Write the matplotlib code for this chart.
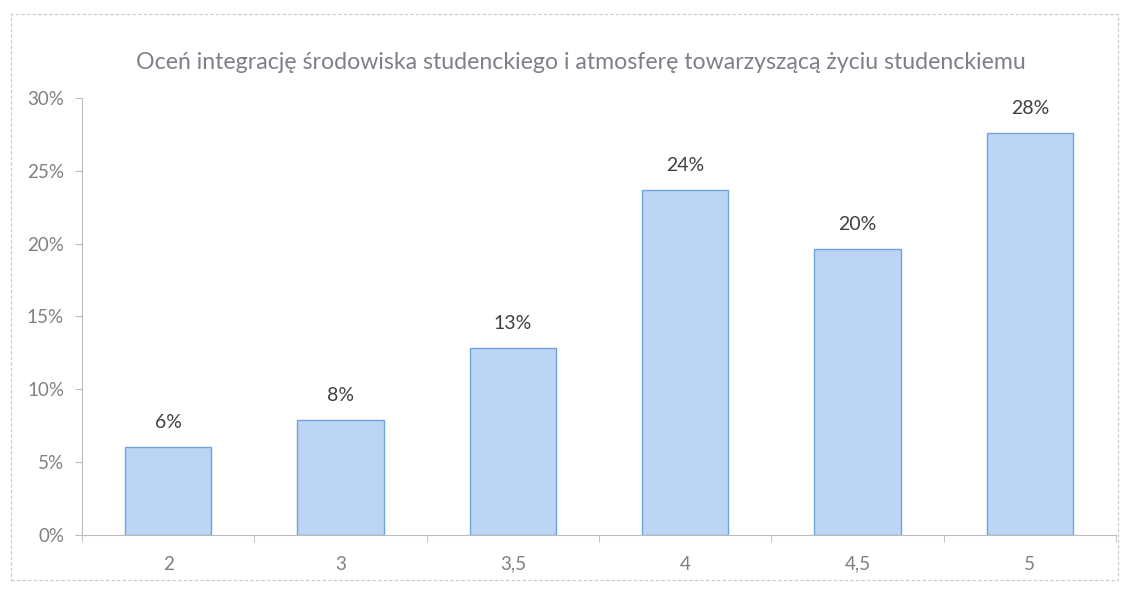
import numpy as np
import matplotlib
matplotlib.use("Agg")
import matplotlib.pyplot as plt
from matplotlib.patches import Rectangle
from matplotlib.ticker import FuncFormatter

plt.rcParams["font.family"] = ["Lato", "DejaVu Sans"]

## Dane
kategorie = ["2", "3", "3,5", "4", "4,5", "5"]
wartosci = [6.0, 7.9, 12.8, 23.7, 19.6, 27.6]
tytul = "Oceń integrację środowiska studenckiego i atmosferę towarzyszącą życiu studenckiemu"

fig = plt.figure(figsize=(11.35, 5.93), dpi=100)
ax = fig.add_axes([0.0723, 0.098, 0.911, 0.737])

# ramka wykresu (jak w Excelu)
fig.patches.append(Rectangle((0.010, 0.022), 0.975, 0.955, transform=fig.transFigure,
                             fill=False, edgecolor="#c8c8c8", linewidth=0.8, linestyle=(0, (3, 2))))

x = np.arange(len(kategorie))
bars = ax.bar(x, wartosci, width=0.5, color="#bcd5f5", edgecolor="#6fa3e0", linewidth=1.0)

for b, v in zip(bars, wartosci):
    ax.text(b.get_x() + b.get_width() / 2, v + 1.1, f"{v:.0f}%", ha="center", va="bottom",
            fontsize=14, color="#404040")

ax.set_xlim(-0.5, len(kategorie) - 0.5)
ax.set_ylim(0, 30)
ax.set_yticks(np.arange(0, 31, 5))
ax.yaxis.set_major_formatter(FuncFormatter(lambda v, p: f"{v:.0f}%"))
ax.set_xticks(x)
ax.set_xticklabels(kategorie)
ax.set_xticks(np.arange(-0.5, len(kategorie)), minor=True)

ax.tick_params(axis="x", which="major", length=0, pad=15, labelsize=13.5, labelcolor="#808080")
ax.tick_params(axis="x", which="minor", length=5, color="#bbbbbb")
ax.tick_params(axis="y", length=5, color="#bbbbbb", pad=8, labelsize=13.5, labelcolor="#808080")

for s in ["top", "right"]:
    ax.spines[s].set_visible(False)
for s in ["left", "bottom"]:
    ax.spines[s].set_color("#bbbbbb")
    ax.spines[s].set_linewidth(0.8)

fig.text(0.512, 0.895, tytul, ha="center", va="center", fontsize=16.7, color="#807e88")

plt.savefig("out.png", dpi=100)
